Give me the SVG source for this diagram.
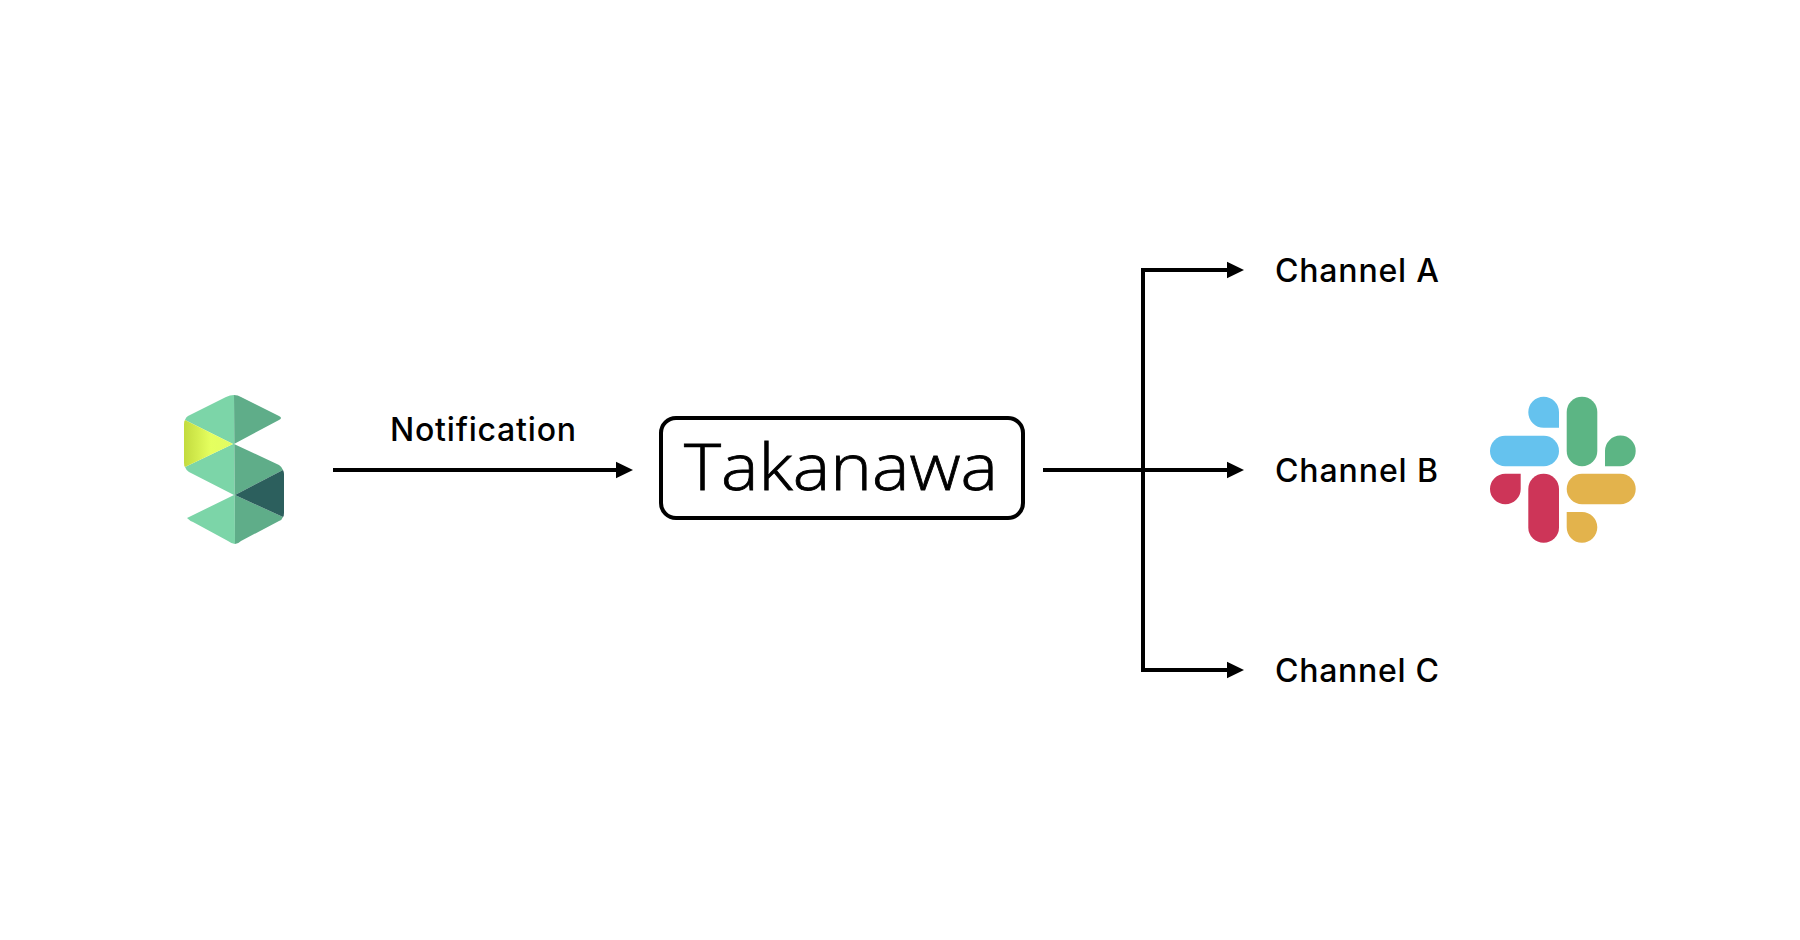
<svg xmlns="http://www.w3.org/2000/svg" width="1800" height="940" viewBox="0 0 1800 940">
<style>
.lbl{font-family:"Inter","Liberation Sans",Arial,sans-serif;font-size:32px;font-weight:500;fill:#000}
.conn{fill:none;stroke:#000;stroke-width:4}
.lg{fill:#7CD5A8}.dg{fill:#5FAD89}
</style>
<defs>
<marker id="arrow" markerUnits="userSpaceOnUse" markerWidth="18" markerHeight="18" refX="0" refY="9" orient="auto"><path d="M0 .7L17 9L0 17.3Z" fill="#000"/></marker>
<linearGradient id="yel" x1="0" x2="1" y1="0" y2="0"><stop offset="0" stop-color="#C3DB3E"/><stop offset=".55" stop-color="#E5FF5F"/><stop offset="1" stop-color="#E2FC62"/></linearGradient>
</defs>
<rect width="1800" height="940" fill="#fff"/>
<g id="logo-s">
<path class="lg" d="M234 395Q230 395 226 397L188 416Q186 417 185 420L233 444L185 467Q186 470 189 472L234 495L187 518Q190 521 193 522L228 541Q232 544 235 544Z"/>
<path class="dg" d="M234 395Q238 395 241 397L279 416Q283 418 279 420L234 444L279 465Q282 467 283 470L235 495L283 517Q282 520 279 521L241 541Q238 544 235 544Z"/>
<path fill="url(#yel)" d="M185 420L233 444L185 467Q184 466 184 463V424Q184 421 185 420Z"/>
<path fill="#2C5F5D" d="M283 470Q284 472 284 474V513Q284 516 283 517L235 495Z"/>
</g>
<g id="connectors">
<line class="conn" x1="333" y1="470" x2="616" y2="470" marker-end="url(#arrow)"/>
<line class="conn" x1="1043" y1="470" x2="1227" y2="470" marker-end="url(#arrow)"/>
<path class="conn" d="M1227 270H1143V670H1227" marker-end="url(#arrow)"/>
<line class="conn" x1="1143" y1="270" x2="1227" y2="270" marker-end="url(#arrow)"/>
</g>
<text class="lbl" x="390" y="440.500" textLength="186">Notification</text>
<g id="takanawa">
<rect x="661" y="418" width="362" height="100" rx="15" fill="#fff" stroke="#000" stroke-width="4"/>
<text x="684" y="490" font-family="'Open Sans',sans-serif" font-weight="300" font-size="65" textLength="314" lengthAdjust="spacingAndGlyphs" fill="#000" stroke="#000" stroke-width=".8">Takanawa</text>
</g>
<g id="channel-a"><text class="lbl" x="1275" y="281.500" textLength="164">Channel A</text></g>
<g id="channel-b"><text class="lbl" x="1275" y="481.500" textLength="163">Channel B</text></g>
<g id="channel-c"><text class="lbl" x="1275" y="681.500" textLength="164">Channel C</text></g>
<g id="logo-slack">
<path fill="#65C2EE" d="M1559 427.700H1543.700A15.350 15.500 0 1 1 1559 412.200Z"/>
<rect x="1490" y="435.700" width="69" height="30.500" rx="15.250" fill="#65C2EE"/>
<rect x="1566.700" y="396.700" width="30.600" height="69.500" rx="15.300" fill="#5CB584"/>
<path fill="#5CB584" d="M1605 466.200V451A15.350 15.300 0 1 1 1620.300 466.200Z"/>
<path fill="#CD3558" d="M1520.700 473.700V489A15.350 15.300 0 1 1 1505.300 473.700Z"/>
<rect x="1528.300" y="473.700" width="30.700" height="69" rx="15.300" fill="#CD3558"/>
<rect x="1566.700" y="473.700" width="69" height="30.600" rx="15.300" fill="#E3B34C"/>
<path fill="#E3B34C" d="M1566.700 512H1582A15.300 15.350 0 1 1 1566.700 527.300Z"/>
</g>
</svg>
